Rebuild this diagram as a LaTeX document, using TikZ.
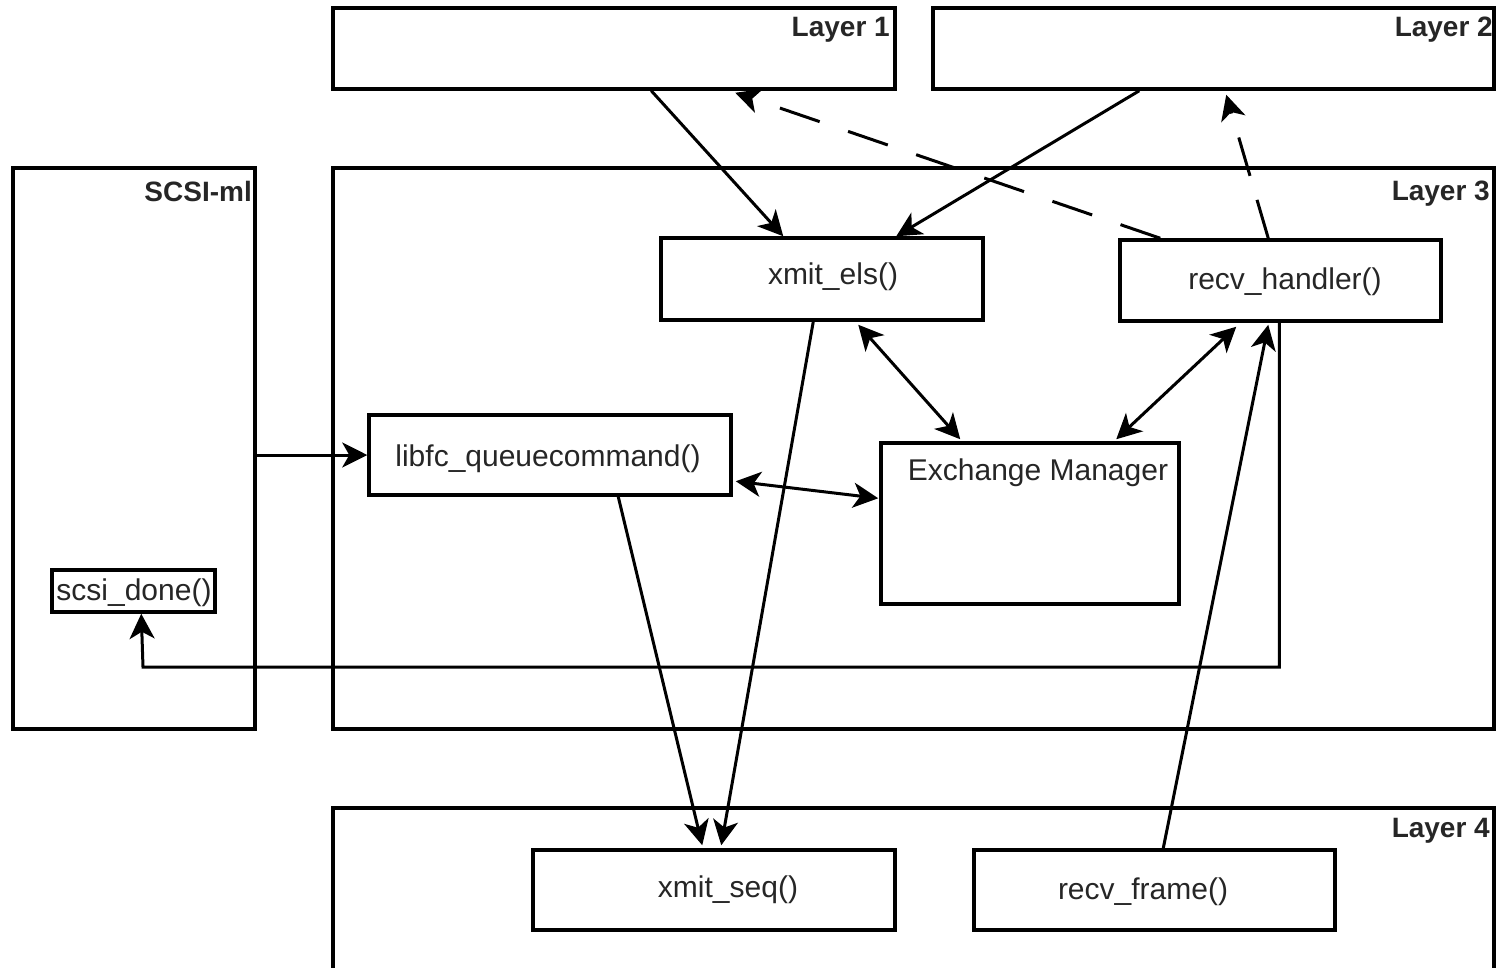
\documentclass[tikz,border=0pt]{standalone}
\usepackage{fontspec}
\setmainfont{Liberation Sans}
\usetikzlibrary{arrows.meta,calc}
\begin{document}
\begin{tikzpicture}[x=1pt,y=-1pt,
  box/.style={draw=black,line width=3.5pt,inner sep=0pt,fill=white},
  func/.style={font=\fontsize{30}{32}\selectfont,text=black!85},
  ltitle/.style={font=\fontsize{28}{30}\selectfont\bfseries,text=black!85,anchor=north east,inner sep=0pt},
  conn/.style={line width=3pt,-{Stealth[length=25pt,width=25pt,inset=7pt]}},
  biconn/.style={line width=3pt,{Stealth[length=25pt,width=25pt,inset=7pt]}-{Stealth[length=25pt,width=25pt,inset=7pt]}},
  dconn/.style={conn,dash pattern=on 42pt off 30pt}]
\useasboundingbox (0,0) rectangle (1501,967);
\clip (0,0) rectangle (1501,967);
\fill[white] (0,0) rectangle (1501,967);
% layer boxes
\node[box,minimum width=562pt,minimum height=81pt] (L1) at (614,48.5) {};
\node[box,minimum width=561pt,minimum height=81pt] (L2) at (1213.5,48.5) {};
\node[box,minimum width=242pt,minimum height=561pt] (SCSI) at (134,448.5) {};
\node[box,minimum width=1161pt,minimum height=561pt] (L3) at (913.5,448.5) {};
\node[box,minimum width=1161pt,minimum height=220pt] (L4) at (913.5,918) {};
\node[ltitle] (L1t) at (890,17) {Layer 1};
\node[ltitle] (L2t) at (1493,17) {Layer 2};
\node[ltitle] (SCSIt) at (252,181) {SCSI-ml};
\node[ltitle] (L3t) at (1490,181) {Layer 3};
\node[ltitle] (L4t) at (1490,818) {Layer 4};
% function boxes
\node[box,minimum width=322pt,minimum height=82pt] (xels) at (822,279) {};
\node[func] at (833,277) {xmit\_els()};
\node[box,minimum width=321pt,minimum height=81pt] (rh) at (1280.5,280.5) {};
\node[func] at (1285,282) {recv\_handler()};
\node[box,minimum width=362pt,minimum height=80pt] (lq) at (550,455) {};
\node[func] at (548,459) {libfc\_queuecommand()};
\node[box,minimum width=298pt,minimum height=161pt] (em) at (1030,523.5) {};
\node[func,anchor=north] at (1038,455) {Exchange Manager};
\node[box,minimum width=163pt,minimum height=42pt] (sd) at (133.5,591) {};
\node[func] at (134,593) {scsi\_done()};
\node[box,minimum width=362pt,minimum height=80pt] (xs) at (714,890) {};
\node[func] at (728,890) {xmit\_seq()};
\node[box,minimum width=361pt,minimum height=80pt] (rf) at (1154.5,890) {};
\node[func] at (1143,892) {recv\_frame()};
% connectors
\draw[conn] ($(L1.south west)+(320,0)$) -- ($(xels.north west)+(124,0)$);
\draw[conn] ($(L2.south west)+(208,0)$) -- ($(xels.north west)+(237,0)$);
\draw[dconn] ($(rh.north west)+(42,0)$) -- ($(L1.south west)+(404,2)$);
\draw[dconn,dash pattern=on 40pt off 25pt] ($(rh.north west)+(150,0)$) -- ($(L2.south west)+(295,4)$);
\draw[conn] ($(xels.south west)+(154,0)$) -- ($(xs.north west)+(190,-3)$);
\draw[conn] ($(lq.south west)+(251,0)$) -- ($(xs.north west)+(171,-3)$);
\draw[biconn] ($(xels.south west)+(199,3)$) -- ($(em.north west)+(81,-2)$);
\draw[biconn] ($(rh.south west)+(118,4)$) -- ($(em.north west)+(237,-2)$);
\draw[biconn] ($(lq.north east)+(3,68)$) -- ($(em.north west)+(-1,57)$);
\draw[conn] (SCSI.east |- lq.west) -- (lq.west);
\draw[conn] ($(rf.north west)+(191,0)$) -- ($(rh.south west)+(150,2)$);
\draw[conn] ($(rh.south west)+(161,0)$) |- (143,667) -- ($(sd.south west)+(91,0)$);
\end{tikzpicture}
\end{document}
